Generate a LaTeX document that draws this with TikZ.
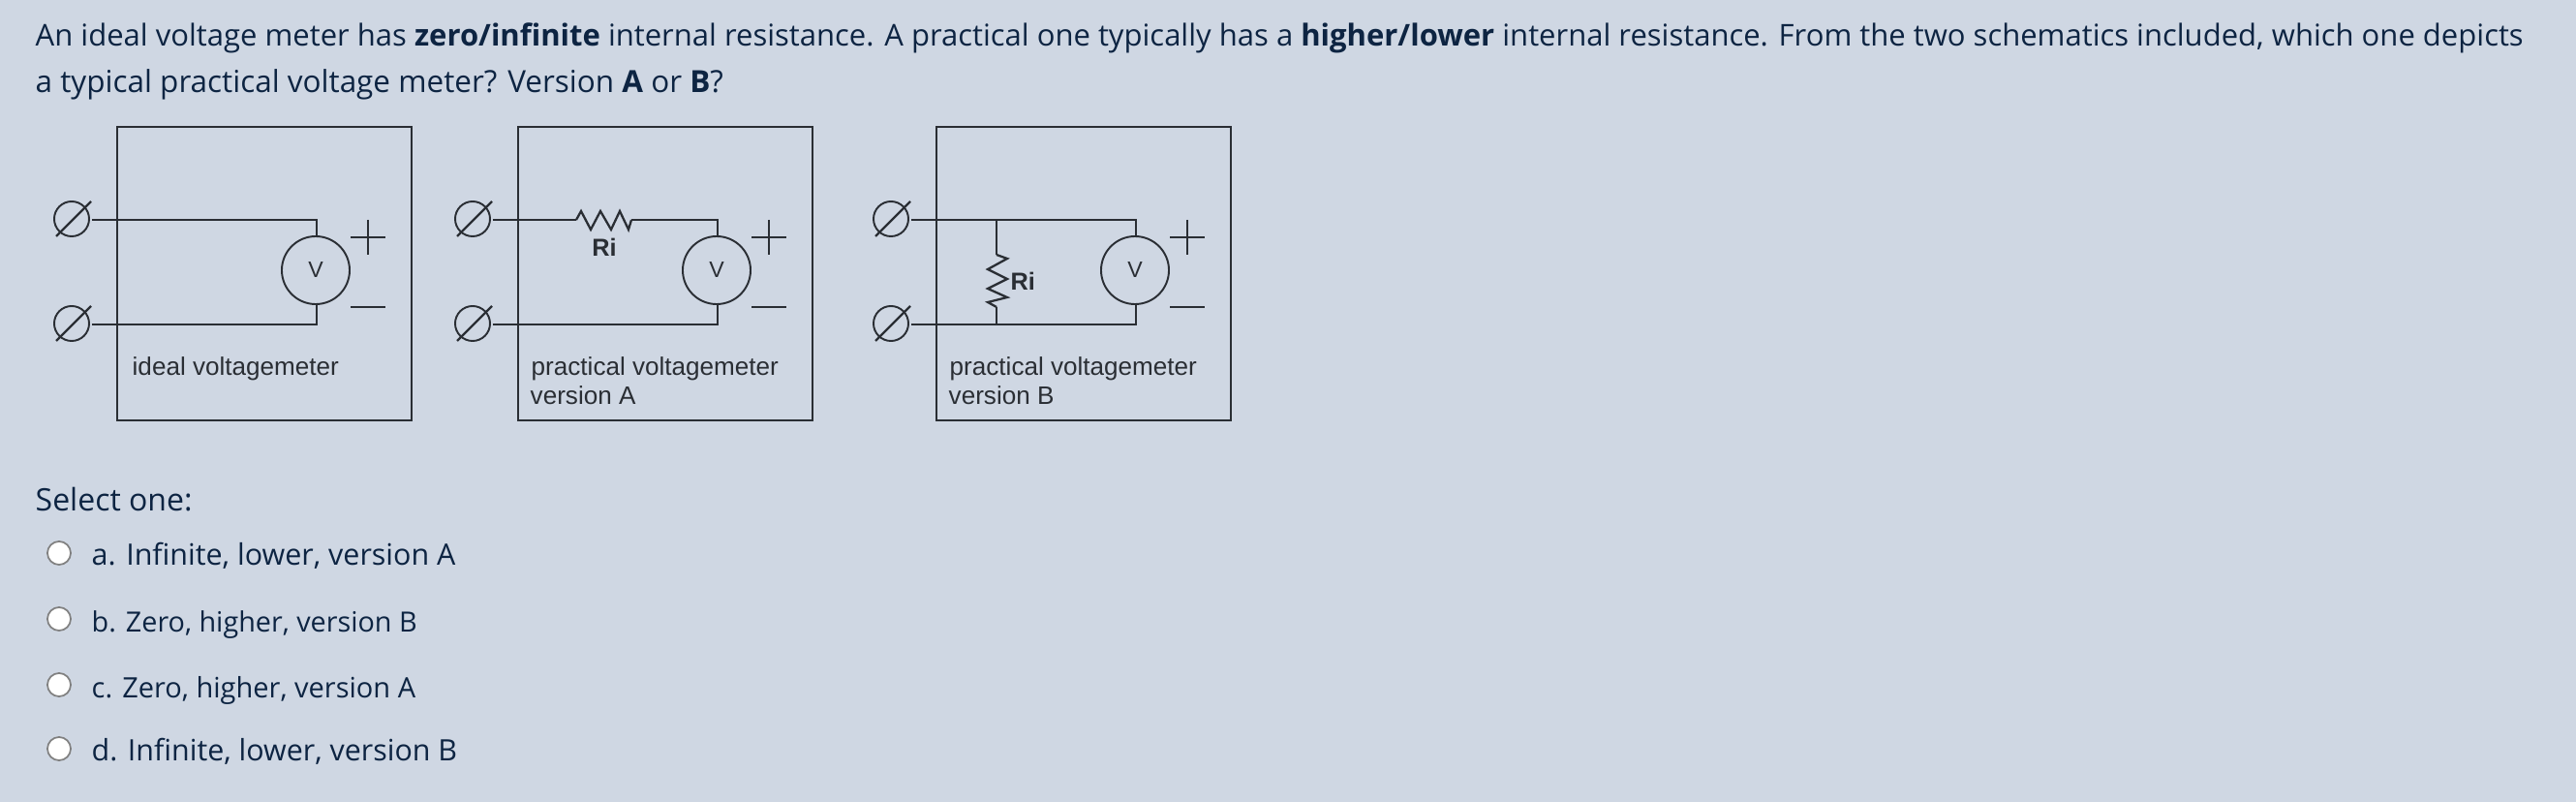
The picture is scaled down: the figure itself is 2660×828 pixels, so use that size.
\documentclass[tikz,border=0pt]{standalone}
\usepackage{fontspec}
\setmainfont{Open Sans}
\newfontfamily\schemfont{Liberation Sans}
\usetikzlibrary{calc}
\definecolor{pagebg}{RGB}{207,215,227}
\definecolor{inktext}{RGB}{13,36,66}
\definecolor{inkwire}{RGB}{42,46,52}
\tikzset{
	opt/.style={anchor=base west, inner sep=0pt, text=inktext, font=\fontsize{#1}{10}\selectfont},
	wire/.style={line width=0.65pt, color=inkwire},
	metbox/.style={draw=inkwire, line width=0.65pt, minimum width=3.04cm, minimum height=3.03cm, inner sep=0pt},
	terminal/.style={draw=inkwire, circle, line width=0.55pt, minimum size=0.36cm, inner sep=0pt},
	meter/.style={draw=inkwire, circle, line width=0.55pt, minimum size=0.7cm, inner sep=0pt, text=inkwire, font=\schemfont\fontsize{6.6}{8}\selectfont},
	captxt/.style={anchor=base west, inner sep=0pt, text=inkwire, font=\schemfont\fontsize{7.42}{9}\selectfont},
	ri/.style={inner sep=0pt, text=inkwire, font=\schemfont\bfseries\fontsize{7.2}{9}\selectfont},
	radio/.style={draw=black!50, fill=white, circle, line width=0.5pt, minimum size=0.24cm, inner sep=0pt}
}
% frame, two terminals, meter and its + and - for one schematic
\def\meterbody(#1)(#2){
	\node[metbox] (#1box) at ({#2+273},282.5) {};
	\node[terminal] (#1top) at ({#2+74},226) {};
	\node[terminal] (#1bot) at ({#2+74},334) {};
	\draw[wire] ([shift={(-16,18)}]#1top.center) -- ([shift={(20,-18)}]#1top.center);
	\draw[wire] ([shift={(-16,18)}]#1bot.center) -- ([shift={(20,-18)}]#1bot.center);
	\node[meter] (#1meter) at ({#2+326},279) {V};
	\draw[wire] ({#2+362},245) -- ({#2+398},245);
	\draw[wire] ({#2+380},227) -- ({#2+380},263);
	\draw[wire] ({#2+362},317) -- ({#2+398},317);
	\draw[wire] ([shift={(2,1)}]#1bot.east) -- ({#2+327},335) -- ({#2+327},314);
}

\begin{document}
\begin{tikzpicture}[x=0.01cm, y=-0.01cm]
	%%%%% START %%%%%
	\useasboundingbox (0,0) rectangle (2660,828);
	\fill[pagebg] (0,0) rectangle (2660,828);

	\node[opt=8.82] (lineone) at (36,48) {An ideal voltage meter has \textbf{zero/infinite} internal resistance. A practical one typically has a \textbf{higher/lower} internal resistance. From the two schematics included, which one depicts};
	\node[opt=8.95] (linetwo) at (36,96) {a typical practical voltage meter? Version \textbf{A} or \textbf{B}?};

	% ideal
	\meterbody(ideal)(0)
	\draw[wire] ([shift={(2,1)}]idealtop.east) -- (327,227) -- (327,245);
	\node[captxt] (idealcap) at (136,388) {ideal voltagemeter};

	% version A
	\meterbody(vera)(414)
	\coordinate (raleft) at (595,227);
	\coordinate (raright) at (652,227);
	\draw[wire] ([shift={(2,1)}]veratop.east) -- (raleft);
	\draw[wire] (raleft) -- (600,218) -- (610,237) -- (620,218) -- (631,237) -- (640,218) -- (649,237) -- (raright);
	\draw[wire] (raright) -- (741,227) -- (741,245);
	\node[ri] (rilabela) at (624,255) {Ri};
	\node[captxt] (veracap) at (548,388) {practical voltagemeter};
	\node[captxt] (veracaptwo) at (547,418) {version A};

	% version B
	\meterbody(verb)(846)
	\coordinate (rbtop) at (1029,263);
	\coordinate (rbbot) at (1029,317);
	\draw[wire] ([shift={(2,1)}]verbtop.east) -- (1173,227) -- (1173,245);
	\draw[wire] (1029,227) -- (rbtop);
	\draw[wire] (rbtop) -- (1040,267) -- (1020,278) -- (1040,288) -- (1020,298) -- (1040,307) -- (1020,312) -- (rbbot);
	\draw[wire] (rbbot) -- (1029,335);
	\node[ri, anchor=west] (rilabelb) at (1043,290) {Ri};
	\node[captxt] (verbcap) at (980,388) {practical voltagemeter};
	\node[captxt] (verbcaptwo) at (979,418) {version B};

	% answers
	\node[opt=9.1] (selectone) at (36,528) {Select one:};
	\node[radio] (radioa) at (61,571) {};
	\node[radio] (radiob) at (61,639) {};
	\node[radio] (radioc) at (61,707) {};
	\node[radio] (radiod) at (61,773) {};
	\node[opt=8.66] (opta) at (94,584) {a. Infinite, lower, version A};
	\node[opt=8.18] (optb) at (94,653) {b. Zero, higher, version B};
	\node[opt=8.25] (optc) at (94,721) {c. Zero, higher, version A};
	\node[opt=8.65] (optd) at (94,786) {d. Infinite, lower, version B};
	%%%%% END %%%%%
\end{tikzpicture}
\end{document}
